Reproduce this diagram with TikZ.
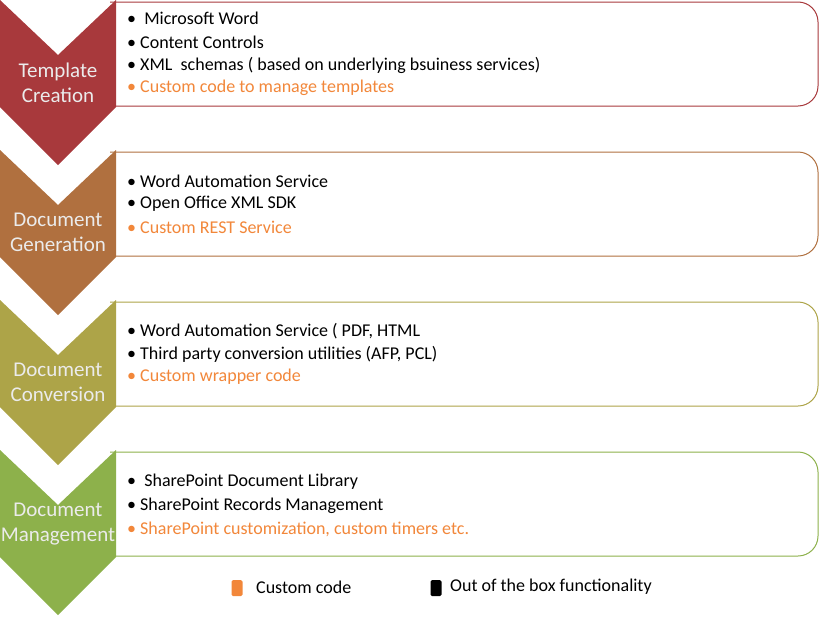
\documentclass[tikz,border=0pt]{standalone}
\usepackage{fontspec}
\setmainfont{Carlito}
\definecolor{c1}{HTML}{A8393C}
\definecolor{c2}{HTML}{B0703F}
\definecolor{c3}{HTML}{ADA448}
\definecolor{c4}{HTML}{8DB14B}
\definecolor{cor}{HTML}{F2873A}
\begin{document}
\begin{tikzpicture}[x=1pt,y=-1pt,
  itm/.style={anchor=west,inner sep=0pt,font=\fontsize{18}{20}\selectfont},
  lab/.style={text=white!92!black,align=center,font=\fontsize{21}{25}\selectfont,inner sep=0pt},
  sq/.style={minimum width=11pt,minimum height=16pt,inner sep=0pt,rounded corners=1.5pt}]
\useasboundingbox (0,0) rectangle (821,616);
\foreach \t/\c [count=\i from 0] in {0/c1,150/c2,300/c3,450/c4}{
  \draw[\c,line width=1pt,fill=white,rounded corners=20pt] (110,\t+2) -- (818,\t+2) -- (818,\t+106) -- (110,\t+106);
  \fill[\c] (0,\t) -- (58,\t+55) -- (116,\t) -- (116,\t+107) -- (58,\t+165) -- (0,\t+107) -- cycle;
}
\node[lab] (l1) at (58,83) {Template\\Creation};
\node[lab] (l2) at (58,232) {Document\\Generation};
\node[lab] (l3) at (58,382) {Document\\Conversion};
\node[lab] (l4) at (58,524) {Document\\Management};
\node[itm] (a1) at (127,18) {\textbullet\ \ Microsoft Word};
\node[itm] (a2) at (127,42) {\textbullet\ Content Controls};
\node[itm] (a3) at (127,65) {\textbullet\ XML\ \ schemas ( based on underlying bsuiness services)};
\node[itm,text=cor] (a4) at (127,88) {\textbullet\ Custom code to manage templates};
\node[itm] (b1) at (127,181) {\textbullet\ Word Automation Service};
\node[itm] (b2) at (127,204) {\textbullet\ Open Office XML SDK};
\node[itm,text=cor] (b3) at (127,227) {\textbullet\ Custom REST Service};
\node[itm] (c1n) at (127,331) {\textbullet\ Word Automation Service ( PDF, HTML};
\node[itm] (c2n) at (127,354) {\textbullet\ Third party conversion utilities (AFP, PCL)};
\node[itm,text=cor] (c3n) at (127,377) {\textbullet\ Custom wrapper code};
\node[itm] (d1) at (127,482) {\textbullet\ \ SharePoint Document Library};
\node[itm] (d2) at (127,506) {\textbullet\ SharePoint Records Management};
\node[itm,text=cor] (d3) at (127,529) {\textbullet\ SharePoint customization, custom timers etc.};
\node[sq,fill=cor] (k1) at (237,588) {};
\node[itm] (k1t) at (256,587) {Custom code};
\node[sq,fill=black] (k2) at (436,588) {};
\node[itm] (k2t) at (450,587) {Out of the box functionality};
\end{tikzpicture}
\end{document}
